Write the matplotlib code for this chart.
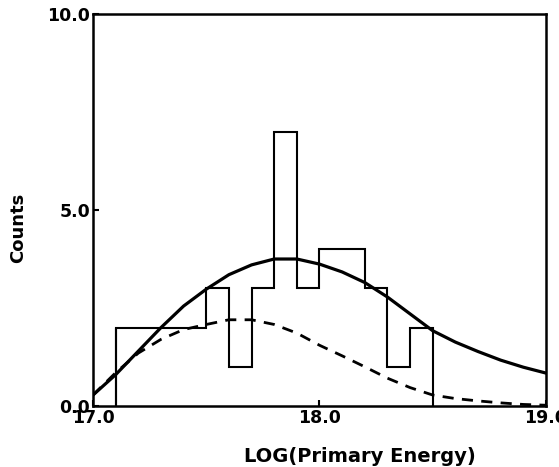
import matplotlib
matplotlib.use("Agg")
import matplotlib.pyplot as plt
import numpy as np

# histogram bin edges and counts
bin_edges = [17.1, 17.2, 17.3, 17.4, 17.5, 17.6, 17.7, 17.8, 17.9, 18.0, 18.1, 18.2, 18.3, 18.4, 18.5]
counts = [2, 2, 2, 2, 3, 1, 3, 7, 3, 4, 4, 3, 1, 2]

# curves
curve_x = [17.0, 17.1, 17.2, 17.3, 17.4, 17.5, 17.6, 17.7, 17.8, 17.9, 18.0,
           18.1, 18.2, 18.3, 18.4, 18.5, 18.6, 18.7, 18.8, 18.9, 19.0]
solid_y = [0.28, 0.8, 1.4, 2.0, 2.55, 2.98, 3.35, 3.6, 3.75, 3.75, 3.62,
           3.42, 3.15, 2.78, 2.35, 1.92, 1.63, 1.39, 1.17, 0.99, 0.84]
dashed_y = [0.28, 0.85, 1.35, 1.7, 1.95, 2.08, 2.2, 2.2, 2.08, 1.86, 1.55,
            1.28, 1.0, 0.71, 0.47, 0.28, 0.19, 0.13, 0.08, 0.04, 0.02]

plt.rcParams['font.family'] = ['DejaVu Sans']
plt.rcParams['font.weight'] = 'bold'

fig = plt.figure(figsize=(5.59, 4.67), dpi=100)
ax = fig.add_axes([0.1664, 0.1306, 0.8103, 0.8394])

# histogram outline
ax.stairs(counts, bin_edges, baseline=0, color='black', linewidth=1.5)
ax.vlines(bin_edges[0], 0, counts[0], color='black', linewidth=1.5)

ax.plot(curve_x, solid_y, color='black', linewidth=2.3)
ax.plot(curve_x, dashed_y, color='black', linewidth=2.0, linestyle=(0, (4, 3)))

ax.set_xlim(17.0, 19.0)
ax.set_ylim(0, 10)
ax.set_xticks([17.0, 18.0, 19.0])
ax.set_xticklabels(['17.0', '18.0', '19.0'])
ax.set_yticks([0, 5, 10])
ax.set_yticklabels(['0.0', '5.0', '10.0'])
ax.tick_params(direction='in', length=4, width=1.5, labelsize=12.5, pad=2)

for s in ax.spines.values():
    s.set_linewidth(1.8)

ax.set_ylabel('Counts', fontsize=13, fontweight='bold')
ax.yaxis.set_label_coords(-0.145, 0.455)
ax.set_xlabel('LOG(Primary Energy)', fontsize=14, fontweight='bold')
ax.xaxis.set_label_coords(0.59, -0.105)

fig.savefig('out.png', dpi=100)
